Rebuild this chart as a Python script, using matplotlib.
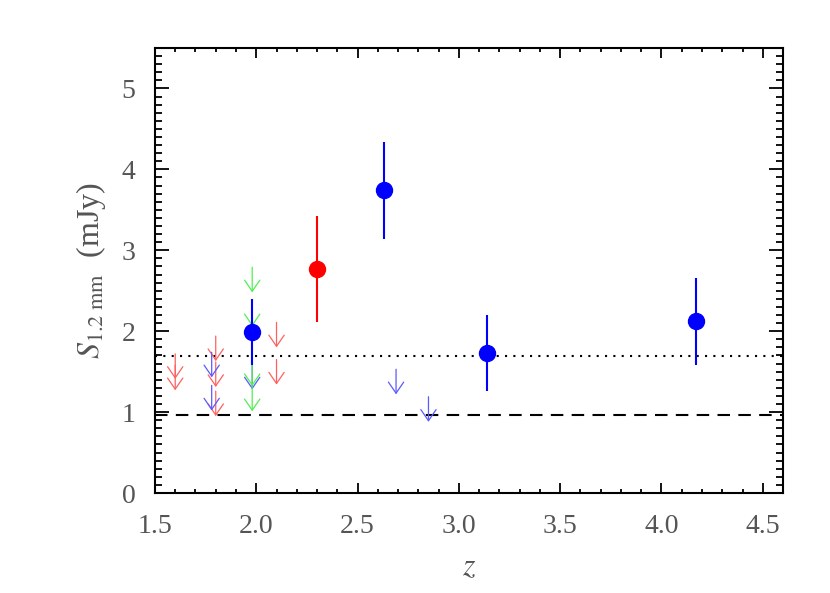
import matplotlib
matplotlib.use("Agg")
from matplotlib import pyplot as plt
from matplotlib.ticker import MultipleLocator, FormatStrFormatter

# detections
blue_z = [1.98, 2.63, 3.14, 4.17]
blue_s = [1.99, 3.74, 1.73, 2.12]
blue_err = [0.41, 0.60, 0.47, 0.54]

red_z = [2.30]
red_s = [2.77]
red_err = [0.66]

# upper limits (top of the arrow)
red_lim_z = [1.60, 1.60, 1.80, 1.80, 1.80, 2.10, 2.10]
red_lim_s = [1.72, 1.58, 1.94, 1.62, 1.26, 2.11, 1.65]
blue_lim_z = [1.78, 1.78, 1.98, 2.69, 2.85]
blue_lim_s = [1.74, 1.33, 1.59, 1.53, 1.19]
green_lim_z = [1.98, 1.98, 1.98, 1.98]
green_lim_s = [2.79, 2.37, 1.63, 1.32]

dotted_level = 1.69
dashed_level = 0.96
arrow_len = 0.31


def main():
    plt.rcParams["font.family"] = ["Liberation Serif", "DejaVu Serif"]
    plt.rcParams["mathtext.fontset"] = "stix"

    fig = plt.figure(figsize=(8.3, 5.93), dpi=100)
    ax = fig.add_axes([0.1867, 0.1686, 0.7567, 0.7504])

    ax.axhline(dotted_level, color="black", ls=(0, (1, 3)), lw=1.5)
    ax.axhline(dashed_level, color="black", ls=(0, (6, 4)), lw=1.5)

    def limits(zs, ss, col):
        for z, s in zip(zs, ss):
            ax.annotate("", xy=(z, s - arrow_len), xytext=(z, s),
                        arrowprops=dict(arrowstyle="->,head_length=0.8,head_width=0.55",
                                        color=col, lw=0.9, shrinkA=0, shrinkB=0))

    limits(red_lim_z, red_lim_s, "#ff6060")
    limits(blue_lim_z, blue_lim_s, "#5a5aff")
    limits(green_lim_z, green_lim_s, "#50f050")

    ax.errorbar(blue_z, blue_s, yerr=blue_err, fmt="o", color="#0000ff",
                ms=11.5, elinewidth=1.5, capsize=0, zorder=5)
    ax.errorbar(red_z, red_s, yerr=red_err, fmt="o", color="#ff0000",
                ms=11.5, elinewidth=1.5, capsize=0, zorder=5)

    ax.set_xlim(1.5, 4.6)
    ax.set_ylim(0, 5.5)
    ax.xaxis.set_major_locator(MultipleLocator(0.5))
    ax.xaxis.set_minor_locator(MultipleLocator(0.1))
    ax.xaxis.set_major_formatter(FormatStrFormatter("%.1f"))
    ax.yaxis.set_major_locator(MultipleLocator(1))
    ax.yaxis.set_minor_locator(MultipleLocator(0.1))

    ax.tick_params(which="both", direction="in", top=True, right=True,
                   width=1.3, labelsize=20, labelcolor="#555555")
    ax.tick_params(axis="x", which="major", length=7, pad=15)
    ax.tick_params(axis="x", which="minor", length=3)
    ax.tick_params(axis="y", which="major", length=10, pad=14)
    ax.tick_params(axis="y", which="minor", length=5)
    for sp in ax.spines.values():
        sp.set_linewidth(1.5)

    ax.set_xlabel("$z$", fontsize=23, color="#555555", labelpad=10)
    ax.set_ylabel(r"$S_{1.2\ \mathrm{mm}}$  (mJy)", fontsize=23, color="#555555", labelpad=10)

    fig.savefig("out.png", dpi=100)


if __name__ == "__main__":
    main()
